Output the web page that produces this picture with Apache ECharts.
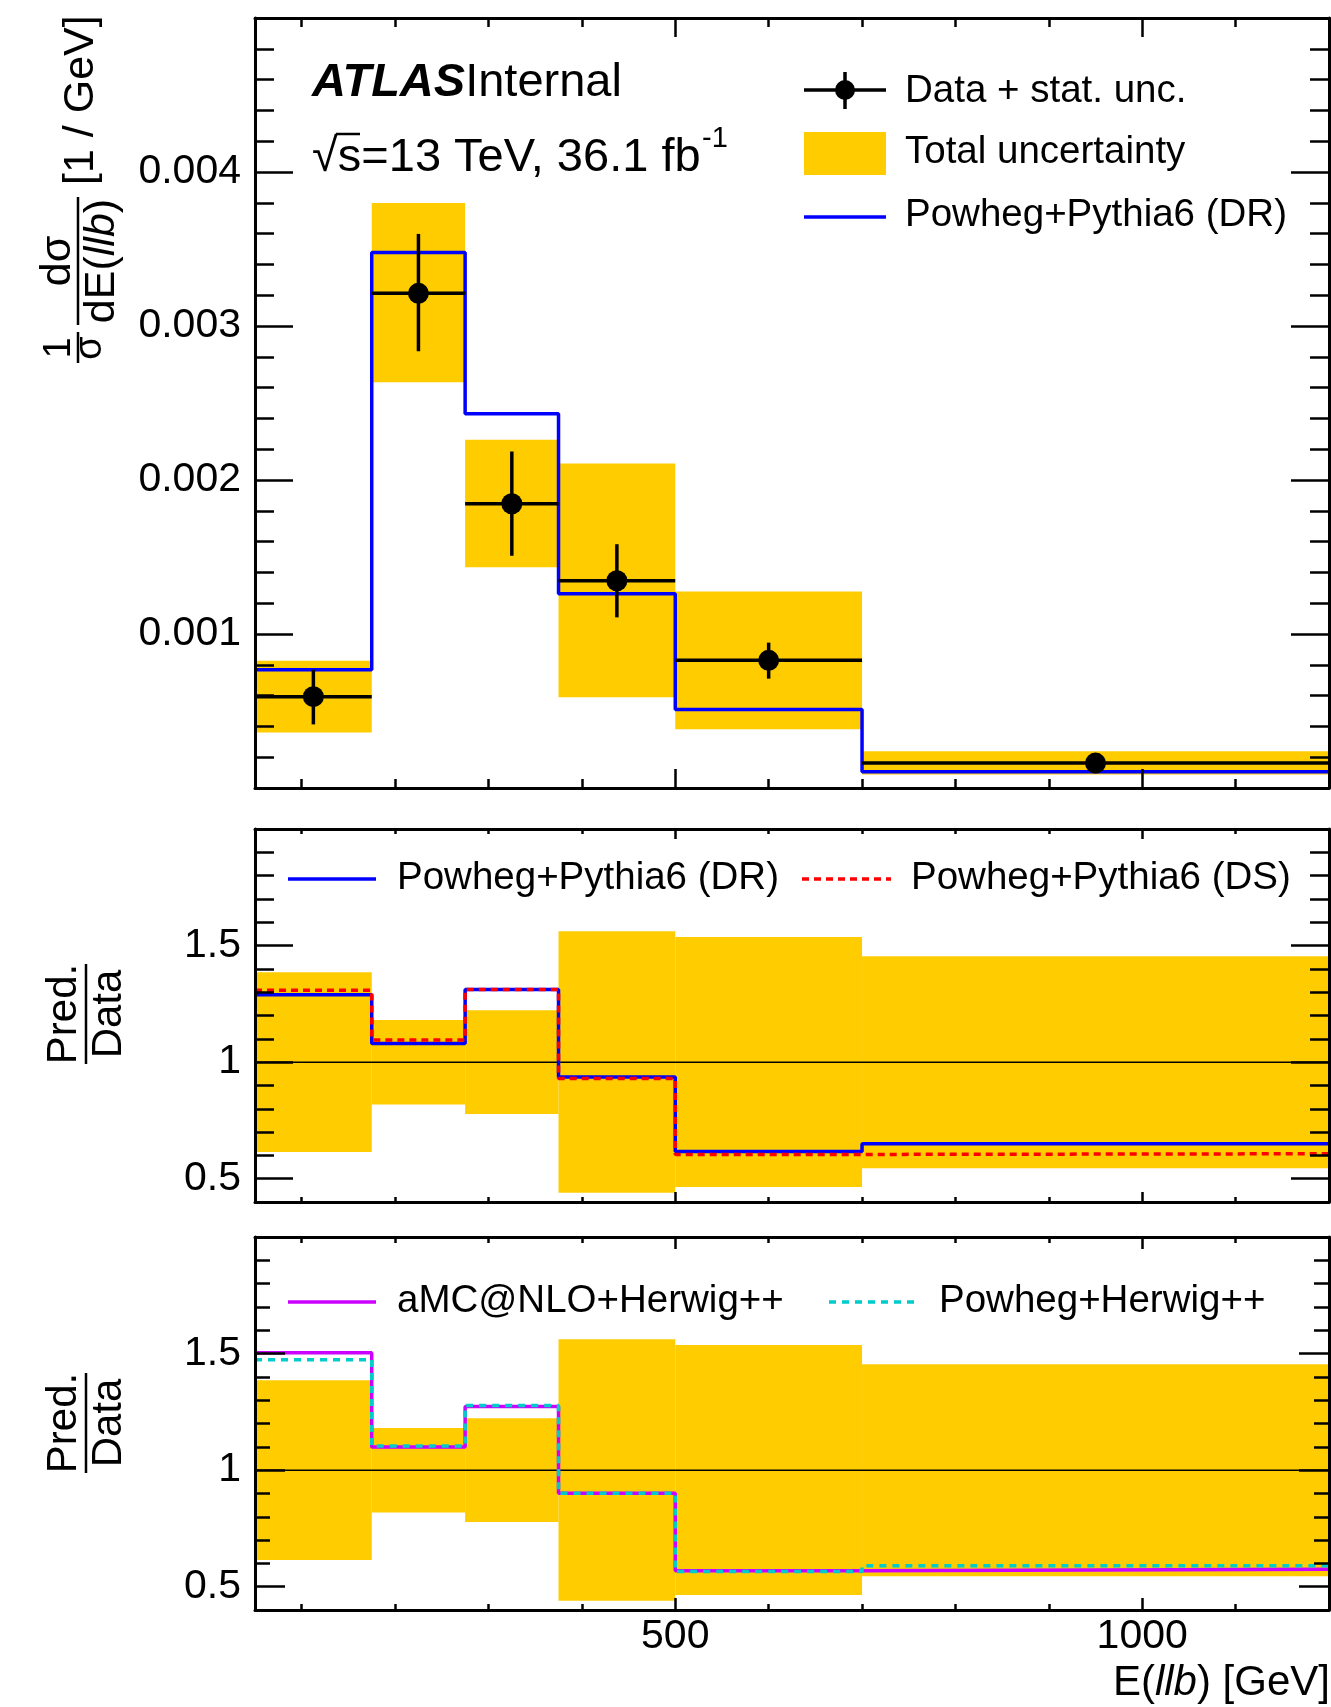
<!DOCTYPE html>
<html><head><meta charset="utf-8">
<script src="https://cdn.jsdelivr.net/npm/echarts@6/dist/echarts.min.js"></script>
<style>html,body{margin:0;padding:0;background:#fff}#c{width:1331px;height:1707px}</style>
</head><body><div id="c"></div>
<script>
// ---- data ----
const binLo = [50, 175, 275, 375, 500, 700];
const binHi = [175, 275, 375, 500, 700, 1200];
const dataVal = [0.000593, 0.003212, 0.001846, 0.001346, 0.000829, 0.000162];
const statUp  = [0.000768, 0.003598, 0.002185, 0.001583, 0.000944, 0.000174];
const statDn  = [0.000413, 0.002836, 0.001508, 0.001108, 0.000710, 0.000150];
const totUp   = [0.000827, 0.003799, 0.002261, 0.002107, 0.001276, 0.000238];
const totDn   = [0.000360, 0.002635, 0.001434, 0.000589, 0.000381, 0.000087];
const predDR  = [0.000768, 0.003478, 0.002430, 0.001262, 0.000509, 0.000106];
const relUp   = [1.386, 1.181, 1.223, 1.561, 1.537, 1.454];
const relDn   = [0.614, 0.818, 0.778, 0.440, 0.464, 0.545];
const ratioDR  = [1.289, 1.080, 1.312, 0.936, 0.617, 0.650];
const ratioDS  = [1.308, 1.095, 1.312, 0.930, 0.604, 0.607];
const ratioAMC = [1.504, 1.099, 1.273, 0.901, 0.568, 0.575];
const ratioPH  = [1.473, 1.103, 1.277, 0.901, 0.565, 0.590];
const xMajorTicks = [500, 1000];
const xMinorTicks = [100, 200, 300, 400, 500, 600, 700, 800, 900, 1000, 1100];
const yTopMajor = [0.001, 0.002, 0.003, 0.004];
const yTopMinor = [0.0002,0.0004,0.0006,0.0008,0.001,0.0012,0.0014,0.0016,0.0018,0.002,0.0022,0.0024,0.0026,0.0028,0.003,0.0032,0.0034,0.0036,0.0038,0.004,0.0042,0.0044,0.0046,0.0048];
const yRatioMajor = [0.5, 1, 1.5];
const yRatioMinor = [0.5,0.6,0.7,0.8,0.9,1.0,1.1,1.2,1.3,1.4,1.5,1.6,1.7,1.8,1.9];

const FONT = "'Liberation Sans', Arial, Helvetica, sans-serif";
const YELLOW = '#ffcc00';
const LW = 3.5;

const chart = echarts.init(document.getElementById('c'), null, {renderer: 'canvas'});

const grids = [
  {left: 255, top: 18, width: 1074, height: 770},
  {left: 255, top: 829, width: 1074, height: 373},
  {left: 255, top: 1237, width: 1074, height: 373}
].map(g => Object.assign({outerBoundsMode: 'none', containLabel: false, show: false}, g));

function tick(vals, len) {
  return {show: true, inside: true, length: len, customValues: vals, lineStyle: {color: '#000', width: 2.5}};
}
function baseAxis(g, pos, min, max) {
  return {type: 'value', gridIndex: g, position: pos, min: min, max: max, z: 10,
    splitLine: {show: false}, axisLine: {show: false, onZero: false}, axisTick: {show: false},
    axisLabel: {show: false}};
}
function xAxesFor(g, minorLen, majorLen, showLabels) {
  const a = baseAxis(g, 'bottom', 50, 1200);
  a.axisLine = {show: true, onZero: false, lineStyle: {color: '#000', width: 3}};
  a.axisTick = tick(xMinorTicks, minorLen);
  if (showLabels) a.axisLabel = {show: true, customValues: xMajorTicks, fontSize: 41, fontFamily: FONT,
    color: '#000', margin: 6, formatter: v => String(Math.round(v))};
  const b = baseAxis(g, 'bottom', 50, 1200); b.axisTick = tick(xMajorTicks, majorLen);
  const c = baseAxis(g, 'top', 50, 1200);
  c.axisLine = {show: true, onZero: false, lineStyle: {color: '#000', width: 3}};
  c.axisTick = tick(xMinorTicks, minorLen);
  const d = baseAxis(g, 'top', 50, 1200); d.axisTick = tick(xMajorTicks, majorLen);
  return [a, b, c, d];
}
function yAxesFor(g, min, max, major, minor, majorLen, minorLen, fmt) {
  const a = baseAxis(g, 'left', min, max);
  a.axisLine = {show: true, onZero: false, lineStyle: {color: '#000', width: 3}};
  a.axisTick = tick(minor, minorLen);
  a.axisLabel = {show: true, customValues: major, fontSize: 41, fontFamily: FONT, color: '#000', margin: 14, formatter: fmt};
  const b = baseAxis(g, 'left', min, max); b.axisTick = tick(major, majorLen);
  const c = baseAxis(g, 'right', min, max);
  c.axisLine = {show: true, onZero: false, lineStyle: {color: '#000', width: 3}};
  c.axisTick = tick(minor, minorLen);
  const d = baseAxis(g, 'right', min, max); d.axisTick = tick(major, majorLen);
  return [a, b, c, d];
}
const fmtTop = v => Number(v).toFixed(3);
const fmtRatio = v => (Math.abs(v - 1) < 1e-9 ? '1' : String(v));

const xAxis = [].concat(xAxesFor(0, 9, 19, false), xAxesFor(1, 5, 10, false), xAxesFor(2, 6, 12, true));
const yAxis = [].concat(
  yAxesFor(0, 0, 0.005, yTopMajor, yTopMinor, 38, 19, fmtTop),
  yAxesFor(1, 0.4, 2.0, yRatioMajor, yRatioMinor, 38, 19, fmtRatio),
  yAxesFor(2, 0.4, 2.0, yRatioMajor, yRatioMinor, 30, 15, fmtRatio)
);

function bandItem(params, api) {
  const p1 = api.coord([api.value(0), api.value(3)]);
  const p2 = api.coord([api.value(1), api.value(2)]);
  return {type: 'rect', shape: {x: p1[0], y: p1[1], width: p2[0] - p1[0], height: p2[1] - p1[1]}, style: {fill: YELLOW}};
}
function errItem(params, api) {
  const a = api.coord([api.value(0), api.value(3)]);
  const b = api.coord([api.value(1), api.value(3)]);
  const c = api.coord([api.value(2), api.value(4)]);
  const d = api.coord([api.value(2), api.value(5)]);
  return {type: 'group', children: [
    {type: 'line', shape: {x1: a[0], y1: a[1], x2: b[0], y2: b[1]}, style: {stroke: '#000', lineWidth: LW}},
    {type: 'line', shape: {x1: c[0], y1: c[1], x2: d[0], y2: d[1]}, style: {stroke: '#000', lineWidth: LW}}
  ]};
}
function bandSeries(g, dn, up) {
  return {type: 'custom', xAxisIndex: 4 * g, yAxisIndex: 4 * g, renderItem: bandItem, silent: true, z: 1,
    encode: {x: [0, 1], y: [2, 3]},
    data: binLo.map((lo, i) => [lo, binHi[i], dn[i], up[i]])};
}
function stepData(vals) {
  const d = binLo.map((lo, i) => [lo, vals[i]]);
  d.push([binHi[binHi.length - 1], vals[vals.length - 1]]);
  return d;
}
function stepSeries(g, vals, color, dash, z) {
  return {type: 'line', xAxisIndex: 4 * g, yAxisIndex: 4 * g, step: 'end', symbol: 'none', showSymbol: false,
    silent: true, z: z, lineStyle: {color: color, width: LW, type: dash, opacity: 1}, data: stepData(vals)};
}
function unitLine(g) {
  return {type: 'line', xAxisIndex: 4 * g, yAxisIndex: 4 * g, symbol: 'none', silent: true, z: 2,
    lineStyle: {color: '#000', width: 1.5}, data: [[50, 1], [1200, 1]]};
}
const centers = binLo.map((lo, i) => (lo + binHi[i]) / 2);

const series = [
  bandSeries(0, totDn, totUp),
  stepSeries(0, predDR, '#0000ff', 'solid', 3),
  {type: 'custom', xAxisIndex: 0, yAxisIndex: 0, renderItem: errItem, silent: true, z: 4,
    encode: {x: [0, 1, 2], y: [3, 4, 5]},
    data: binLo.map((lo, i) => [lo, binHi[i], centers[i], dataVal[i], statDn[i], statUp[i]])},
  {type: 'scatter', xAxisIndex: 0, yAxisIndex: 0, symbol: 'circle', symbolSize: 21, silent: true, z: 5,
    itemStyle: {color: '#000', opacity: 1, borderWidth: 0}, data: centers.map((c, i) => [c, dataVal[i]])},

  bandSeries(1, relDn, relUp),
  unitLine(1),
  stepSeries(1, ratioDR, '#0000ff', 'solid', 3),
  stepSeries(1, ratioDS, '#ff0000', [7, 5], 4),

  bandSeries(2, relDn, relUp),
  unitLine(2),
  stepSeries(2, ratioAMC, '#cc00ff', 'solid', 3),
  stepSeries(2, ratioPH, '#00cccc', [7, 6], 4)
];

function txt(text, x, y, size, opts) {
  return Object.assign({type: 'text', z: 100, style: Object.assign({text: text, x: x, y: y, fill: '#000',
    fontSize: size, fontFamily: FONT, align: 'left', verticalAlign: 'middle',
    textAlign: 'left', textVerticalAlign: 'middle'}, opts || {})});
}
function ctxt(text, x, y, size, opts) {
  return txt(text, x, y, size, Object.assign({align: 'center', textAlign: 'center'}, opts || {}));
}
function seg(x1, y1, x2, y2, color, w, dash) {
  return {type: 'line', z: 100, shape: {x1: x1, y1: y1, x2: x2, y2: y2},
    style: {stroke: color, lineWidth: w, lineDash: dash || null}};
}
const LEG = 38.5;
const graphic = [
  // ATLAS Internal
  txt('{b|ATLAS}{n|Internal}', 312, 83, 47, {rich: {
    b: {fontSize: 47, fontFamily: FONT, fontWeight: 'bold', fontStyle: 'italic', fill: '#000'},
    n: {fontSize: 47, fontFamily: FONT, fill: '#000'}}}),
  // sqrt(s) line
  txt('\u221As=13 TeV, 36.1 fb', 312, 158, 47),
  seg(336, 134, 360, 134, '#000', 2.5),
  txt('-1', 702, 124, 29, {verticalAlign: 'top', textVerticalAlign: 'top'}),
  // top legend
  seg(804, 90, 886, 90, '#000', LW),
  seg(845, 72, 845, 109, '#000', LW),
  {type: 'circle', z: 100, shape: {cx: 845, cy: 90, r: 10}, style: {fill: '#000'}},
  txt('Data + stat. unc.', 905, 91, LEG),
  {type: 'rect', z: 100, shape: {x: 804, y: 132, width: 82, height: 43}, style: {fill: YELLOW}},
  txt('Total uncertainty', 905, 152, LEG),
  seg(804, 217, 886, 217, '#0000ff', LW),
  txt('Powheg+Pythia6 (DR)', 905, 215, LEG),
  // middle legend
  seg(288, 879, 376, 879, '#0000ff', LW),
  txt('Powheg+Pythia6 (DR)', 397, 878, LEG),
  seg(802, 879, 891, 879, '#ff0000', LW, [7, 5]),
  txt('Powheg+Pythia6 (DS)', 911, 878, LEG),
  // bottom legend
  seg(288, 1302, 376, 1302, '#cc00ff', LW),
  txt('aMC@NLO+Herwig++', 397, 1301, LEG),
  seg(829, 1302, 917, 1302, '#00cccc', LW, [7, 6]),
  txt('Powheg+Herwig++', 939, 1301, LEG),
  // x-axis title
  txt('E({i|llb}) [GeV]', 1330, 1683, 42, {align: 'right', textAlign: 'right', rich: {
    i: {fontSize: 42, fontFamily: FONT, fontStyle: 'italic', fill: '#000'}}}),
  // top y title (rotated)
  {type: 'group', x: 78, y: 365, rotation: Math.PI / 2, children: [
    ctxt('1', 17, -18, 38),
    seg(2, 0, 33, 0, '#000', 2.5),
    ctxt('\u03C3', 17, 13, 38),
    ctxt('d\u03C3', 104, -20, 43),
    seg(40, 0, 168, 0, '#000', 2.5),
    ctxt('dE({i|llb})', 104, 24, 43, {rich: {i: {fontSize: 43, fontFamily: FONT, fontStyle: 'italic', fill: '#000'}}}),
    txt('[1 / GeV]', 180, 3, 43)
  ]},
  // Pred./Data labels
  {type: 'group', x: 86, y: 1014, rotation: Math.PI / 2, children: [
    ctxt('Pred.', 0, -22, 42), seg(-50, 0, 50, 0, '#000', 2.5), ctxt('Data', 0, 23, 42)
  ]},
  {type: 'group', x: 86, y: 1423, rotation: Math.PI / 2, children: [
    ctxt('Pred.', 0, -22, 42), seg(-50, 0, 50, 0, '#000', 2.5), ctxt('Data', 0, 23, 42)
  ]}
];

chart.setOption({
  animation: false,
  backgroundColor: '#fff',
  grid: grids,
  xAxis: xAxis,
  yAxis: yAxis,
  series: series,
  graphic: graphic
});
</script>
</body></html>
